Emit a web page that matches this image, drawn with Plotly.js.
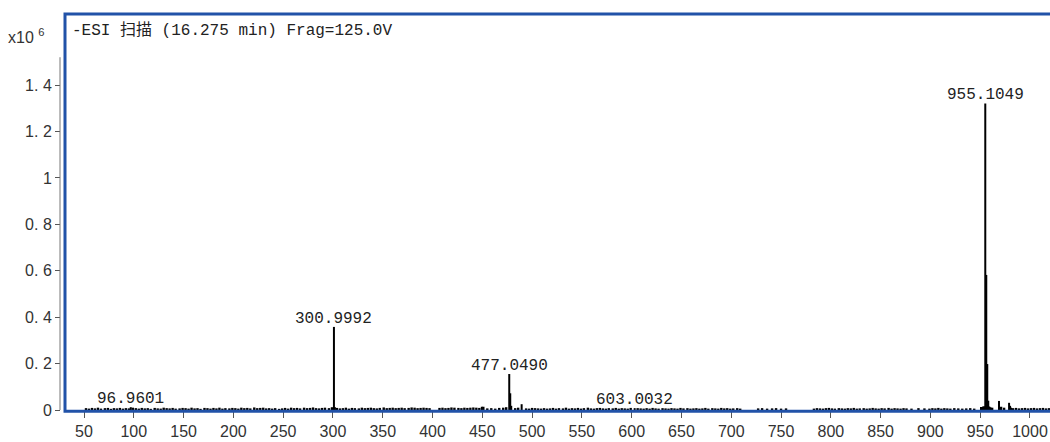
<!DOCTYPE html>
<html>
<head>
<meta charset="utf-8">
<script src="https://cdn.plot.ly/plotly-3.0.1.min.js"></script>
<style>html,body{margin:0;padding:0;background:#fff;}#chart{width:1050px;height:442px;}</style>
</head>
<body>
<div id="chart"></div>
<script>
// Main peaks (m/z, intensity in x10^6 counts)
const peakMz = [96.9601, 300.9992, 302.0, 449.5, 477.0490, 478.05, 479.05, 489.5, 603.0032,
  954.1, 955.1049, 956.1, 957.1, 958.1, 959.1, 968.9, 979.0, 980.0, 981.0];
const peakInt = [0.012, 0.358, 0.012, 0.014, 0.155, 0.072, 0.018, 0.025, 0.008,
  0.016, 1.321, 0.582, 0.198, 0.040, 0.015, 0.039, 0.031, 0.018, 0.010];

// Baseline noise
const noiseMz = [
  52,55,58,61,64,67,71,74,77,80,
  83,86,89,92,95,99,102,105,108,111,
  114,117,121,124,127,130,133,136,139,142,
  146,149,152,155,158,161,164,167,171,174,
  177,180,183,186,189,192,196,199,202,205,
  208,211,214,217,221,224,227,230,233,236,
  239,242,246,249,252,255,258,261,264,267,
  271,274,277,280,283,286,289,292,296,299,
  304,307,310,313,316,319,322,326,329,332,
  335,338,341,344,347,351,354,357,360,363,
  366,369,372,376,379,382,385,388,391,394,
  397,407,410,413,416,419,422,426,429,432,
  435,438,441,444,447,451,455,459,463,467,
  471,474,483,486,494,497,500,503,506,509,
  512,515,518,521,524,527,531,534,537,540,
  543,546,549,552,556,559,562,565,568,571,
  574,577,581,584,587,590,593,596,599,606,
  609,612,615,618,621,624,627,631,634,637,
  640,643,646,649,652,656,659,662,665,668,
  671,674,677,681,684,687,690,693,696,699,
  702,706,709,727,731,736,741,745,750,755,
  783,786,789,792,795,798,801,804,808,811,
  814,817,820,823,826,829,833,836,839,842,
  845,848,851,854,858,861,864,867,870,873,
  876,881,888,894,899,902,905,908,911,914,
  917,920,924,928,932,936,940,944,960,962,
  971,974,983,986,989,992,995,998,1001,1004,
  1007,1010,1013,1016,1019,951,953];
const noiseInt = [
  0.008,0.006,0.009,0.007,0.010,0.006,0.008,0.009,0.005,0.008,
  0.007,0.009,0.006,0.008,0.007,0.010,0.008,0.006,0.009,0.007,
  0.008,0.005,0.009,0.007,0.006,0.010,0.008,0.007,0.009,0.006,
  0.007,0.009,0.008,0.006,0.010,0.007,0.008,0.005,0.009,0.008,
  0.006,0.009,0.007,0.010,0.006,0.008,0.007,0.009,0.008,0.006,
  0.010,0.008,0.009,0.007,0.011,0.008,0.009,0.010,0.007,0.008,
  0.006,0.008,0.005,0.007,0.009,0.006,0.010,0.008,0.009,0.007,
  0.010,0.008,0.009,0.011,0.008,0.007,0.009,0.010,0.008,0.012,
  0.009,0.007,0.008,0.010,0.006,0.009,0.008,0.007,0.010,0.008,
  0.009,0.010,0.008,0.007,0.009,0.011,0.008,0.009,0.010,0.008,
  0.009,0.010,0.008,0.009,0.011,0.010,0.008,0.009,0.010,0.009,
  0.008,0.009,0.010,0.008,0.009,0.011,0.010,0.009,0.008,0.010,
  0.009,0.010,0.011,0.010,0.009,0.014,0.007,0.008,0.006,0.009,
  0.010,0.012,0.008,0.010,0.007,0.006,0.009,0.008,0.007,0.006,
  0.008,0.006,0.007,0.009,0.006,0.008,0.007,0.010,0.006,0.008,
  0.007,0.009,0.006,0.008,0.010,0.007,0.006,0.008,0.009,0.007,
  0.006,0.008,0.007,0.009,0.006,0.008,0.007,0.006,0.009,0.008,
  0.007,0.006,0.008,0.006,0.009,0.007,0.006,0.008,0.007,0.006,
  0.008,0.007,0.006,0.009,0.007,0.008,0.006,0.007,0.008,0.006,
  0.007,0.009,0.006,0.008,0.007,0.006,0.009,0.007,0.008,0.006,
  0.007,0.008,0.006,0.007,0.008,0.006,0.007,0.008,0.006,0.007,
  0.006,0.008,0.007,0.006,0.008,0.009,0.007,0.006,0.008,0.007,
  0.006,0.008,0.007,0.009,0.006,0.007,0.008,0.006,0.007,0.009,
  0.007,0.006,0.008,0.007,0.009,0.006,0.008,0.007,0.006,0.008,
  0.007,0.006,0.008,0.007,0.006,0.008,0.007,0.009,0.006,0.008,
  0.007,0.006,0.008,0.007,0.006,0.007,0.008,0.006,0.012,0.010,
  0.014,0.010,0.008,0.009,0.007,0.008,0.009,0.007,0.008,0.009,
  0.007,0.008,0.009,0.007,0.008,0.013,0.015];

// Labelled peaks
const labelMz = [96.9601, 300.9992, 477.0490, 603.0032, 955.1049];
const labelInt = [0.012, 0.358, 0.155, 0.008, 1.321];
const labelText = ["96.9601", "300.9992", "477.0490", "603.0032", "955.1049"];

// Axis ticks
const xTicks = [50,100,150,200,250,300,350,400,450,500,550,600,650,700,750,800,850,900,950,1000];
const yTicks = [0, 0.2, 0.4, 0.6, 0.8, 1, 1.2, 1.4];
const yTickText = ["0", "0. 2", "0. 4", "0. 6", "0. 8", "1", "1. 2", "1. 4"];

const titleText = "-ESI 扫描 (16.275 min) Frag=125.0V";
const scaleText = "x10 <sup>6</sup>";

const monoFont = "Liberation Mono, Noto Sans CJK SC, monospace";
const tickFont = "Liberation Sans Narrow, Liberation Sans, sans-serif";

const traces = [
  {type: 'bar', x: noiseMz, y: noiseInt, width: noiseMz.map(() => 2.4),
   marker: {color: '#000', line: {width: 0}}, hoverinfo: 'skip'},
  {type: 'bar', x: peakMz, y: peakInt, width: peakMz.map(() => 2),
   marker: {color: '#000', line: {width: 0}}}
];

const annotations = labelMz.map((m, i) => ({
  x: m, y: labelInt[i], xref: 'x', yref: 'y', text: labelText[i], showarrow: false,
  xanchor: 'center', yanchor: 'bottom', yshift: -3,
  font: {family: monoFont, size: 16, color: '#222'}
}));
annotations.push({
  x: 10/990, y: (410-30)/396, xref: 'paper', yref: 'paper', text: titleText, showarrow: false,
  xanchor: 'left', yanchor: 'middle', font: {family: monoFont, size: 16, color: '#222'}
});
annotations.push({
  x: (6-60)/990, y: (410-36)/396, xref: 'paper', yref: 'paper', text: scaleText, showarrow: false,
  xanchor: 'left', yanchor: 'middle', font: {family: tickFont, size: 16, color: '#333'}
});

const layout = {
  width: 1050, height: 442,
  margin: {l: 60, r: 0, t: 14, b: 32, pad: 0},
  paper_bgcolor: '#fff', plot_bgcolor: '#fff',
  showlegend: false, barmode: 'overlay',
  xaxis: {
    domain: [5/990, 1], range: [30.92, 1020.1],
    tickvals: xTicks, ticktext: xTicks.map(String),
    ticks: 'outside', ticklen: 7, tickwidth: 1, tickcolor: '#555',
    showline: false, showgrid: false, zeroline: false,
    tickfont: {family: tickFont, size: 16, color: '#333'}
  },
  yaxis: {
    anchor: 'free', position: 0, range: [0, 1.7062],
    tickvals: yTicks, ticktext: yTickText,
    ticks: 'outside', ticklen: 5, tickwidth: 1, tickcolor: '#555',
    showline: false, showgrid: false, zeroline: false,
    tickfont: {family: tickFont, size: 16, color: '#333'}
  },
  shapes: [
    {type: 'line', xref: 'paper', yref: 'y', x0: 0, x1: 0, y0: -0.004, y1: 1.52,
     line: {color: '#777', width: 1}},
    {type: 'rect', xref: 'paper', yref: 'paper', x0: 5/990, x1: 1.01, y0: -0.003, y1: 1.0,
     line: {color: '#2152a8', width: 3}, layer: 'above'}
  ],
  annotations: annotations
};

Plotly.newPlot('chart', traces, layout, {displayModeBar: false, staticPlot: true});
</script>
</body>
</html>
